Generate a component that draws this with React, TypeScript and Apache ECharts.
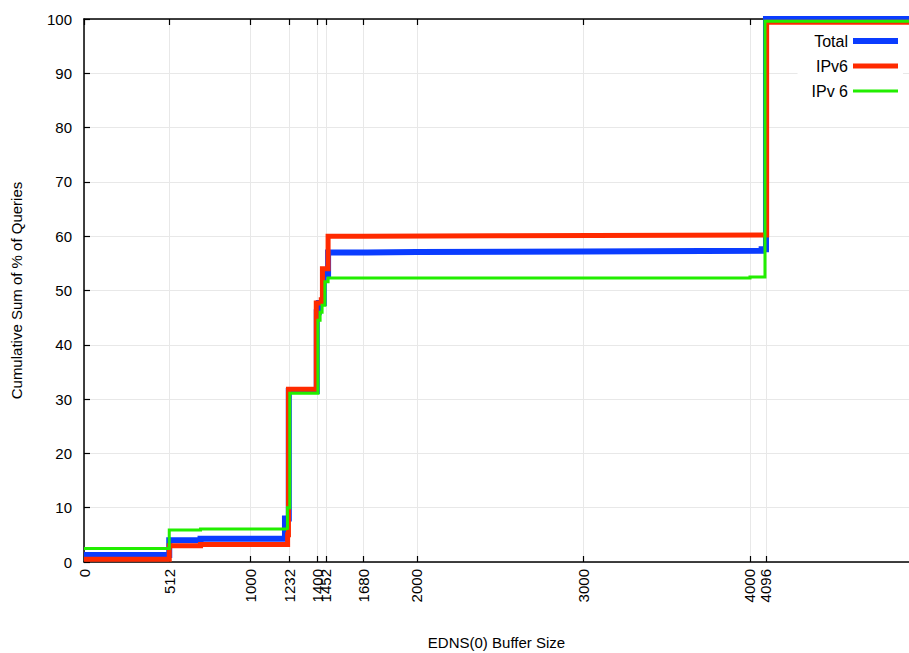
import React, { useEffect, useRef } from "react";
import * as echarts from "echarts";

const xTicks = [0, 512, 1000, 1232, 1400, 1452, 1680, 2000, 3000, 4000, 4096];
const X_MAX = 4955;

const totalData: [number, number][] = [
  [0, 1.3], [512, 4.0], [700, 4.3], [1207, 8.0], [1230, 31.5], [1398, 46.0], [1410, 47.7],
  [1440, 53.0], [1466, 57.0], [1700, 57.1], [2000, 57.2], [3000, 57.3], [4070, 57.6],
  [4096, 100], [X_MAX, 100],
];
const ipv6Data: [number, number][] = [
  [0, 0.5], [512, 3.0], [700, 3.2], [1223, 5.0], [1228, 31.8], [1395, 47.7], [1425, 48.3],
  [1432, 54.0], [1466, 60.0], [1680, 60.1], [2500, 60.2], [4100, 99.4], [X_MAX, 99.4],
];
const ipv6bData: [number, number][] = [
  [0, 2.5], [512, 5.9], [700, 6.1], [1213, 6.2], [1222, 10.0], [1236, 31.1], [1405, 44.5],
  [1418, 46.0], [1430, 47.3], [1447, 51.6], [1466, 52.3], [2000, 52.3], [4000, 52.5],
  [4090, 99.6], [X_MAX, 99.6],
];

const FONT = "Liberation Sans, Arial, Helvetica, sans-serif";
const COLORS = { total: "#0a3cff", ipv6: "#ff2a00", ipv6b: "#22ee00" };

export default function App() {
  const ref = useRef<HTMLDivElement>(null);
  useEffect(() => {
    if (!ref.current) return;
    const chart = echarts.init(ref.current, null, { renderer: "svg" });
    const mkSeries = (name: string, data: [number, number][], color: string, width: number) => ({
      name,
      type: "line",
      step: "end",
      data,
      symbol: "none",
      showSymbol: false,
      clip: true,
      lineStyle: { color, width, cap: "butt", join: "miter" },
      itemStyle: { color },
    });
    const bar = (h: number) => `path://M0,0L45,0L45,${h}L0,${h}Z`;
    chart.setOption({
      animation: false,
      backgroundColor: "#ffffff",
      textStyle: { fontFamily: FONT },
      grid: { left: 84, right: 0, top: 19, bottom: 91, containLabel: false, outerBoundsMode: "none" },
      legend: {
        data: [
          { name: "Total", icon: bar(6) },
          { name: "IPv6", icon: bar(5) },
          { name: "IPv 6", icon: bar(3) },
        ],
        orient: "vertical",
        align: "right",
        right: 6,
        top: 31,
        itemWidth: 45,
        itemHeight: 14,
        itemGap: 9,
        padding: [2, 5, 4, 14],
        backgroundColor: "#ffffff",
        textStyle: { fontFamily: FONT, fontSize: 16, color: "#000" },
      },
      xAxis: [
        {
          type: "value",
          min: 0,
          max: X_MAX,
          position: "bottom",
          name: "EDNS(0) Buffer Size",
          nameLocation: "middle",
          nameGap: 73,
          nameTextStyle: { fontFamily: FONT, fontSize: 15, color: "#000" },
          axisLine: { show: true, onZero: false, lineStyle: { color: "#000", width: 1.5 } },
          axisTick: { show: true, inside: true, length: 6, customValues: xTicks, lineStyle: { color: "#000", width: 1.2 } },
          axisLabel: {
            show: true,
            rotate: 90,
            margin: 7,
            customValues: xTicks,
            formatter: (v: number) => String(v),
            fontFamily: FONT,
            fontSize: 15,
            color: "#000",
            hideOverlap: false,
          },
          splitLine: { show: true, lineStyle: { color: "#e8e8e8", width: 1 } },
        },
        {
          type: "value",
          min: 0,
          max: X_MAX,
          position: "top",
          axisLine: { show: true, onZero: false, lineStyle: { color: "#000", width: 1.5 } },
          axisTick: { show: true, inside: true, length: 6, customValues: xTicks, lineStyle: { color: "#000", width: 1.2 } },
          axisLabel: { show: false },
          splitLine: { show: false },
        },
      ],
      yAxis: {
        type: "value",
        min: 0,
        max: 100,
        interval: 10,
        name: "Cumulative Sum of % of Queries",
        nameLocation: "middle",
        nameRotate: 90,
        nameGap: 60,
        nameTextStyle: { fontFamily: FONT, fontSize: 15, color: "#000" },
        axisLine: { show: true, onZero: false, lineStyle: { color: "#000", width: 1.5 } },
        axisTick: { show: true, inside: true, length: 6, lineStyle: { color: "#000", width: 1.2 } },
        axisLabel: { fontFamily: FONT, fontSize: 15, color: "#000", margin: 12 },
        splitLine: { show: true, lineStyle: { color: "#e8e8e8", width: 1 } },
      },
      series: [
        mkSeries("Total", totalData, COLORS.total, 6),
        mkSeries("IPv6", ipv6Data, COLORS.ipv6, 5),
        mkSeries("IPv 6", ipv6bData, COLORS.ipv6b, 3),
      ],
    });
    return () => chart.dispose();
  }, []);
  return (
    <div
      ref={ref}
      style={{ position: "absolute", left: 0, top: 0, width: 909, height: 653 }}
    />
  );
}
